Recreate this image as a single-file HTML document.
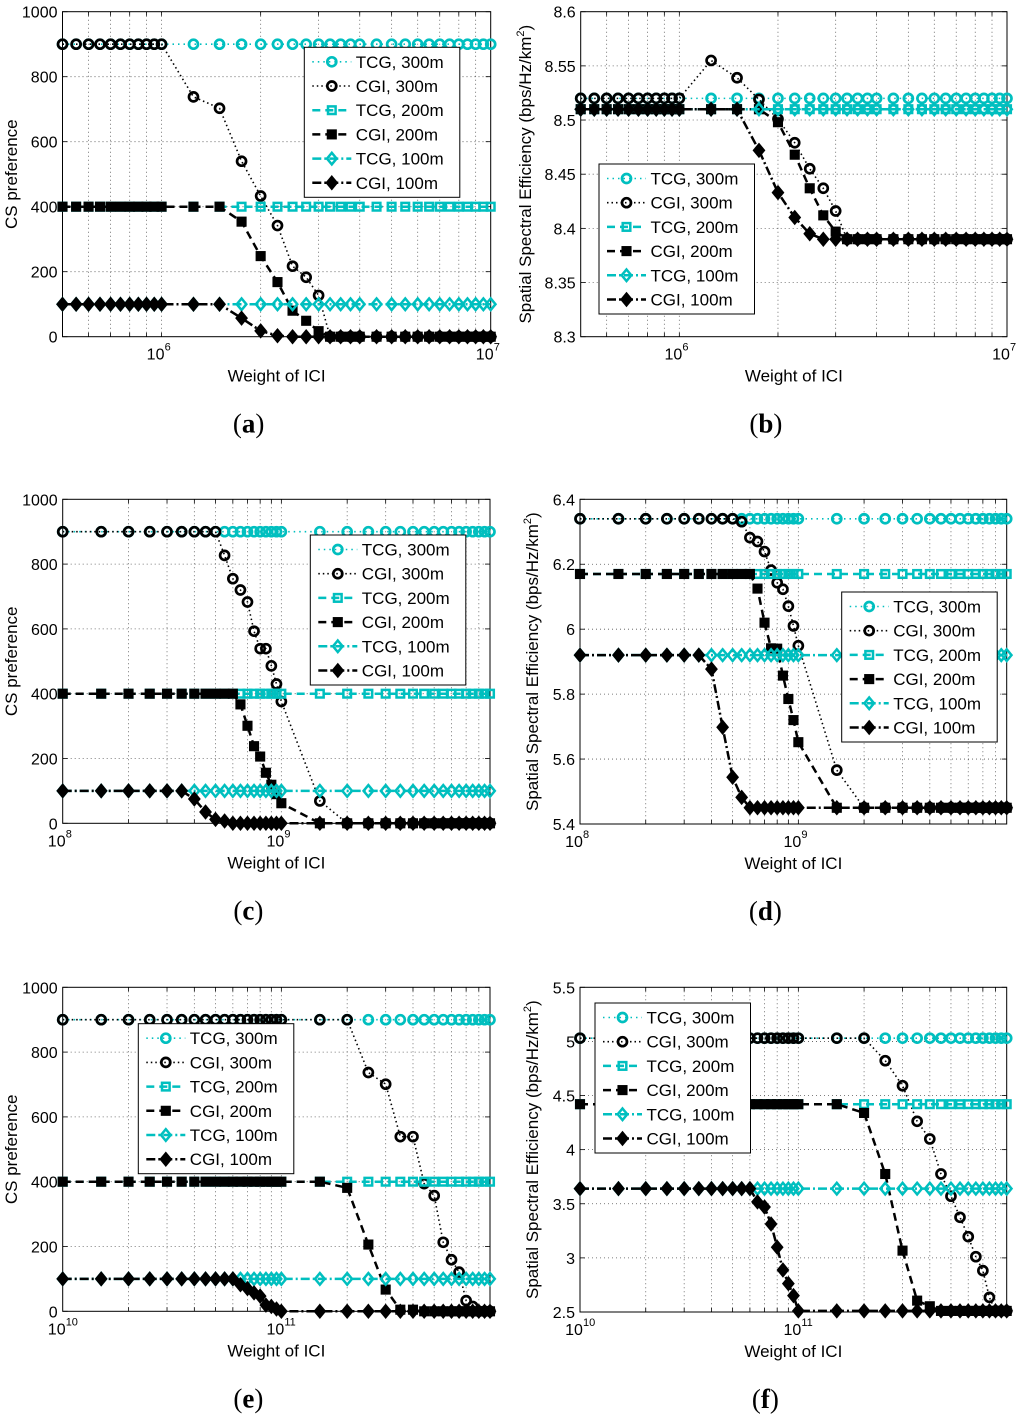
<!DOCTYPE html>
<html><head><meta charset="utf-8"><style>
html,body{margin:0;padding:0;background:#fff;}
svg{display:block;font-family:"Liberation Sans",sans-serif;}
</style></head>
<body>
<svg id="fig" width="1024" height="1419" viewBox="0 0 1024 1419" xmlns="http://www.w3.org/2000/svg"></svg>
<script>
// ---------- data ----------
const xA = [500000,550000,600000,650000,700000,750000,800000,850000,900000,950000,1000000,1250000,1500000,1750000,2000000,2250000,2500000,2750000,3000000,3250000,3500000,3750000,4000000,4500000,5000000,5500000,6000000,6500000,7000000,7500000,8000000,8500000,9000000,9500000,10000000];
const xC = [1e8,1.5e8,2e8,2.5e8,3e8,3.5e8,4e8,4.5e8,5e8,5.5e8,6e8,6.5e8,7e8,7.5e8,8e8,8.5e8,9e8,9.5e8,1e9,1.5e9,2e9,2.5e9,3e9,3.5e9,4e9,4.5e9,5e9,5.5e9,6e9,6.5e9,7e9,7.5e9,8e9,8.5e9,9e9];
const xE = [1e10,1.5e10,2e10,2.5e10,3e10,3.5e10,4e10,4.5e10,5e10,5.5e10,6e10,6.5e10,7e10,7.5e10,8e10,8.5e10,9e10,9.5e10,1e11,1.5e11,2e11,2.5e11,3e11,3.5e11,4e11,4.5e11,5e11,5.5e11,6e11,6.5e11,7e11,7.5e11,8e11,8.5e11,9e11];

const aTCG300 = [900,900,900,900,900,900,900,900,900,900,900,900,900,900,900,900,900,900,900,900,900,900,900,900,900,900,900,900,900,900,900,900,900,900,900];
const aCGI300 = [900,900,900,900,900,900,900,900,900,900,900,738,703,540,433,342,217,183,127,0,0,0,0,0,0,0,0,0,0,0,0,0,0,0,0];
const aTCG200 = [400,400,400,400,400,400,400,400,400,400,400,400,400,400,400,400,400,400,400,400,400,400,400,400,400,400,400,400,400,400,400,400,400,400,400];
const aCGI200 = [400,400,400,400,400,400,400,400,400,400,400,400,400,354,248,168,80,49,17,0,0,0,0,0,0,0,0,0,0,0,0,0,0,0,0];
const aTCG100 = [100,100,100,100,100,100,100,100,100,100,100,100,100,100,100,100,100,100,100,100,100,100,100,100,100,100,100,100,100,100,100,100,100,100,100];
const aCGI100 = [100,100,100,100,100,100,100,100,100,100,100,100,100,57,18,3,0,0,0,0,0,0,0,0,0,0,0,0,0,0,0,0,0,0,0];

const bTCG300 = [8.52,8.52,8.52,8.52,8.52,8.52,8.52,8.52,8.52,8.52,8.52,8.52,8.52,8.52,8.52,8.52,8.52,8.52,8.52,8.52,8.52,8.52,8.52,8.52,8.52,8.52,8.52,8.52,8.52,8.52,8.52,8.52,8.52,8.52,8.52];
const bCGI300 = [8.52,8.52,8.52,8.52,8.52,8.52,8.52,8.52,8.52,8.52,8.52,8.555,8.539,8.519,8.501,8.479,8.455,8.437,8.416,8.39,8.39,8.39,8.39,8.39,8.39,8.39,8.39,8.39,8.39,8.39,8.39,8.39,8.39,8.39,8.39];
const bTCG200 = [8.51,8.51,8.51,8.51,8.51,8.51,8.51,8.51,8.51,8.51,8.51,8.51,8.51,8.51,8.51,8.51,8.51,8.51,8.51,8.51,8.51,8.51,8.51,8.51,8.51,8.51,8.51,8.51,8.51,8.51,8.51,8.51,8.51,8.51,8.51];
const bCGI200 = [8.51,8.51,8.51,8.51,8.51,8.51,8.51,8.51,8.51,8.51,8.51,8.51,8.51,8.51,8.498,8.468,8.437,8.412,8.397,8.39,8.39,8.39,8.39,8.39,8.39,8.39,8.39,8.39,8.39,8.39,8.39,8.39,8.39,8.39,8.39];
const bTCG100 = [8.51,8.51,8.51,8.51,8.51,8.51,8.51,8.51,8.51,8.51,8.51,8.51,8.51,8.51,8.51,8.51,8.51,8.51,8.51,8.51,8.51,8.51,8.51,8.51,8.51,8.51,8.51,8.51,8.51,8.51,8.51,8.51,8.51,8.51,8.51];
const bCGI100 = [8.51,8.51,8.51,8.51,8.51,8.51,8.51,8.51,8.51,8.51,8.51,8.51,8.51,8.472,8.433,8.41,8.395,8.39,8.39,8.39,8.39,8.39,8.39,8.39,8.39,8.39,8.39,8.39,8.39,8.39,8.39,8.39,8.39,8.39,8.39];

const cTCG300 = aTCG300.slice();
const cCGI300 = [900,900,900,900,900,900,900,900,900,827,755,720,683,593,539,539,486,430,376,69,0,0,0,0,0,0,0,0,0,0,0,0,0,0,0];
const cTCG200 = aTCG200.slice();
const cCGI200 = [400,400,400,400,400,400,400,400,400,400,400,367,301,238,206,156,119,90,62,0,0,0,0,0,0,0,0,0,0,0,0,0,0,0,0];
const cTCG100 = aTCG100.slice();
const cCGI100 = [100,100,100,100,100,100,75,35,12,7,0,0,0,0,0,0,0,0,0,0,0,0,0,0,0,0,0,0,0,0,0,0,0,0,0];

const dTCG300 = [6.34,6.34,6.34,6.34,6.34,6.34,6.34,6.34,6.34,6.34,6.34,6.34,6.34,6.34,6.34,6.34,6.34,6.34,6.34,6.34,6.34,6.34,6.34,6.34,6.34,6.34,6.34,6.34,6.34,6.34,6.34,6.34,6.34,6.34,6.34];
const dCGI300 = [6.34,6.34,6.34,6.34,6.34,6.34,6.34,6.34,6.34,6.331,6.282,6.27,6.239,6.182,6.143,6.123,6.071,6.01,5.949,5.566,5.45,5.45,5.45,5.45,5.45,5.45,5.45,5.45,5.45,5.45,5.45,5.45,5.45,5.45,5.45];
const dTCG200 = [6.17,6.17,6.17,6.17,6.17,6.17,6.17,6.17,6.17,6.17,6.17,6.17,6.17,6.17,6.17,6.17,6.17,6.17,6.17,6.17,6.17,6.17,6.17,6.17,6.17,6.17,6.17,6.17,6.17,6.17,6.17,6.17,6.17,6.17,6.17];
const dCGI200 = [6.17,6.17,6.17,6.17,6.17,6.17,6.17,6.17,6.17,6.17,6.17,6.125,6.02,5.941,5.94,5.857,5.785,5.72,5.652,5.45,5.45,5.45,5.45,5.45,5.45,5.45,5.45,5.45,5.45,5.45,5.45,5.45,5.45,5.45,5.45];
const dTCG100 = [5.92,5.92,5.92,5.92,5.92,5.92,5.92,5.92,5.92,5.92,5.92,5.92,5.92,5.92,5.92,5.92,5.92,5.92,5.92,5.92,5.92,5.92,5.92,5.92,5.92,5.92,5.92,5.92,5.92,5.92,5.92,5.92,5.92,5.92,5.92];
const dCGI100 = [5.92,5.92,5.92,5.92,5.92,5.92,5.877,5.698,5.544,5.482,5.45,5.45,5.45,5.45,5.45,5.45,5.45,5.45,5.45,5.45,5.45,5.45,5.45,5.45,5.45,5.45,5.45,5.45,5.45,5.45,5.45,5.45,5.45,5.45,5.45];

const eTCG300 = aTCG300.slice();
const eCGI300 = [900,900,900,900,900,900,900,900,900,900,900,900,900,900,900,900,900,900,900,900,900,737,701,539,539,394,357,213,159,121,33,15,0,0,0];
const eTCG200 = aTCG200.slice();
const eCGI200 = [400,400,400,400,400,400,400,400,400,400,400,400,400,400,400,400,400,400,400,400,381,206,67,5,5,0,0,0,0,0,0,0,0,0,0];
const eTCG100 = aTCG100.slice();
const eCGI100 = [100,100,100,100,100,100,100,100,100,100,100,82,70,57,47,19,15,7,0,0,0,0,0,0,0,0,0,0,0,0,0,0,0,0,0];

const fTCG300 = [5.03,5.03,5.03,5.03,5.03,5.03,5.03,5.03,5.03,5.03,5.03,5.03,5.03,5.03,5.03,5.03,5.03,5.03,5.03,5.03,5.03,5.03,5.03,5.03,5.03,5.03,5.03,5.03,5.03,5.03,5.03,5.03,5.03,5.03,5.03];
const fCGI300 = [5.03,5.03,5.03,5.03,5.03,5.03,5.03,5.03,5.03,5.03,5.03,5.03,5.03,5.03,5.03,5.03,5.03,5.03,5.03,5.03,5.03,4.822,4.591,4.262,4.099,3.775,3.57,3.375,3.196,3.011,2.882,2.635,2.51,2.51,2.51];
const fTCG200 = [4.42,4.42,4.42,4.42,4.42,4.42,4.42,4.42,4.42,4.42,4.42,4.42,4.42,4.42,4.42,4.42,4.42,4.42,4.42,4.42,4.42,4.42,4.42,4.42,4.42,4.42,4.42,4.42,4.42,4.42,4.42,4.42,4.42,4.42,4.42];
const fCGI200 = [4.42,4.42,4.42,4.42,4.42,4.42,4.42,4.42,4.42,4.42,4.42,4.42,4.42,4.42,4.42,4.42,4.42,4.42,4.42,4.42,4.339,3.775,3.067,2.605,2.553,2.51,2.51,2.51,2.51,2.51,2.51,2.51,2.51,2.51,2.51];
const fTCG100 = [3.64,3.64,3.64,3.64,3.64,3.64,3.64,3.64,3.64,3.64,3.64,3.64,3.64,3.64,3.64,3.64,3.64,3.64,3.64,3.64,3.64,3.64,3.64,3.64,3.64,3.64,3.64,3.64,3.64,3.64,3.64,3.64,3.64,3.64,3.64];
const fCGI100 = [3.64,3.64,3.64,3.64,3.64,3.64,3.64,3.64,3.64,3.64,3.64,3.517,3.47,3.313,3.098,2.888,2.762,2.651,2.51,2.51,2.51,2.51,2.51,2.51,2.51,2.51,2.51,2.51,2.51,2.51,2.51,2.51,2.51,2.51,2.51];

const seriesNames = ["TCG, 300m","CGI, 300m","TCG, 200m","CGI, 200m","TCG, 100m","CGI, 100m"];
const yTicksCS = [0,200,400,600,800,1000];
const yTicksB = [8.3,8.35,8.4,8.45,8.5,8.55,8.6];
const yTicksD = [5.4,5.6,5.8,6,6.2,6.4];
const yTicksF = [2.5,3,3.5,4,4.5,5,5.5];

// ---------- drawing ----------
const NS = "http://www.w3.org/2000/svg";
const svg = document.getElementById("fig");
const CY = "#00bfbf";
function mk(tag, attrs, parent){
  const e = document.createElementNS(NS, tag);
  for (const k in attrs) e.setAttribute(k, attrs[k]);
  (parent||svg).appendChild(e);
  return e;
}
const styles = [
  {c:CY, dash:"1.5 4", m:"o", w:1.6},
  {c:"#000", dash:"1.5 3", m:"o", w:1.6},
  {c:CY, dash:"8 5", m:"s", w:2.5},
  {c:"#000", dash:"8 5", m:"s", w:2.5},
  {c:CY, dash:"9 3 2 3", m:"d", w:2.5},
  {c:"#000", dash:"9 3 2 3", m:"d", w:2.5}
];
function marker(g, type, x, y, color, filled){
  let e;
  if (type==="o") e = mk("circle",{cx:x,cy:y,r:4.5,fill:"none",stroke:color,"stroke-width":2.7},g);
  else if (type==="s") e = mk("rect",{x:x-3.8,y:y-3.8,width:7.6,height:7.6,fill:filled?color:"none",stroke:color,"stroke-width":2.5},g);
  else e = mk("polygon",{points:`${x},${y-5.8} ${x+4.8},${y} ${x},${y+5.8} ${x-4.8},${y}`,fill:filled?color:"none",stroke:color,"stroke-width":2.5},g);
  return e;
}
function fmt(v){ return String(+v.toFixed(2)); }

function panel(p){
  const g = mk("g",{});
  
  
  const [L,T,R,B] = p.box;
  const lx0 = Math.log10(p.xr[0]), lx1 = Math.log10(p.xr[1]);
  const sx = v => L + (Math.log10(v)-lx0)/(lx1-lx0)*(R-L);
  const sy = v => B - (v-p.yr[0])/(p.yr[1]-p.yr[0])*(B-T);
  const grid = mk("g",{},g);
  
  
  for (let d=Math.floor(lx0); d<=Math.ceil(lx1); d++){
    for (let m=1; m<10; m++){
      const v = m*Math.pow(10,d);
      if (v < p.xr[0]*1.001 || v > p.xr[1]*0.999) continue;
      const x = sx(v);
      mk("line",{x1:x,y1:T,x2:x,y2:B,stroke:"#555","stroke-width":0.8,"stroke-dasharray":"1 3"},grid);
      mk("line",{x1:x,y1:B,x2:x,y2:B-4,stroke:"#000","stroke-width":0.8},grid);
      mk("line",{x1:x,y1:T,x2:x,y2:T+4,stroke:"#000","stroke-width":0.8},grid);
    }
  }
  p.yt.forEach(v=>{
    const y = sy(v);
    if (v>p.yr[0] && v<p.yr[1]) mk("line",{x1:L,y1:y,x2:R,y2:y,stroke:"#555","stroke-width":0.8,"stroke-dasharray":"1 3"},grid);
    mk("line",{x1:L,y1:y,x2:L+5,y2:y,stroke:"#000","stroke-width":0.8},grid);
    mk("line",{x1:R,y1:y,x2:R-5,y2:y,stroke:"#000","stroke-width":0.8},grid);
    const t = mk("text",{x:L-5,y:y+6,"text-anchor":"end","font-size":16,fill:"#000"},g);
    t.textContent = fmt(v);
    
    
  });
  p.xt.forEach(v=>{
    const x = sx(v);
    const e = Math.round(Math.log10(v));
    const t = mk("text",{x:x-6,y:B+23,"text-anchor":"middle","font-size":16,fill:"#000"},g);
    t.textContent = "10";
    
    
    const s = mk("text",{x:x+3,y:B+14,"text-anchor":"start","font-size":11,fill:"#000"},g);
    s.textContent = String(e);
    
    
  });
  const bx = mk("rect",{x:L,y:T,width:R-L,height:B-T,fill:"none",stroke:"#000","stroke-width":1},g);
  
  
  p.series.forEach((vals,i)=>{
    const st = styles[i];
    const sg = mk("g",{},g);
    
    
    const pts = vals.map((v,k)=>sx(p.x[k]).toFixed(2)+","+sy(v).toFixed(2)).join(" ");
    mk("polyline",{points:pts,fill:"none",stroke:st.c,"stroke-width":st.w,"stroke-dasharray":st.dash},sg);
    vals.forEach((v,k)=>{
      const m = marker(sg, st.m, sx(p.x[k]), sy(v), st.c, i===3||i===5);
      
      
    });
  });
  const [lx,ly] = p.leg;
  const lg = mk("g",{},g);
  
  
  mk("rect",{x:lx,y:ly,width:155.5,height:150,fill:"#fff",stroke:"#000","stroke-width":1},lg);
  seriesNames.forEach((n,i)=>{
    const st = styles[i];
    const yy = ly+14.5+i*24.2;
    const eg = mk("g",{},lg);
    
    
    mk("line",{x1:lx+8,y1:yy,x2:lx+47,y2:yy,stroke:st.c,"stroke-width":st.w,"stroke-dasharray":st.dash},eg);
    marker(eg, st.m, lx+27.5, yy, st.c, i===3||i===5);
    const t = mk("text",{x:lx+51.5,y:yy+6,"font-size":17,fill:"#000"},eg);
    t.textContent = n;
  });
  const xl = mk("text",{x:(L+R)/2,y:B+45,"text-anchor":"middle","font-size":17,fill:"#000"},g);
  xl.textContent = "Weight of ICI";
  
  
  const yx = p.ylx, yc = (T+B)/2;
  const yl = mk("text",{x:yx,y:yc,"text-anchor":"middle","font-size":17,fill:"#000",transform:`rotate(-90 ${yx} ${yc})`},g);
  if (p.ytitle==="cs") yl.textContent = "CS preference";
  else { yl.textContent = "Spatial Spectral Efficiency (bps/Hz/km"; const ts=mk("tspan",{"font-size":11,dy:-7},yl); ts.textContent="2"; const t2=mk("tspan",{dy:7},yl); t2.textContent=")"; }
  
  
  const pl = mk("text",{x:(L+R)/2-28,y:B+96,"text-anchor":"middle","font-size":27,"font-family":"Liberation Serif, serif",fill:"#000"},g);
  pl.innerHTML = '(<tspan font-weight="bold">'+p.id+'</tspan>)';
  
  
}

panel({id:"a",box:[62.5,11.7,490.7,336.7],xr:[5e5,1e7],yr:[0,1000],yt:yTicksCS,xt:[1e6,1e7],x:xA,
  series:[aTCG300,aCGI300,aTCG200,aCGI200,aTCG100,aCGI100],leg:[304.3,47.3],ytitle:"cs",ylx:17});
panel({id:"b",box:[580.7,11.7,1007,336.7],xr:[5e5,1e7],yr:[8.3,8.6],yt:yTicksB,xt:[1e6,1e7],x:xA,
  series:[bTCG300,bCGI300,bTCG200,bCGI200,bTCG100,bCGI100],leg:[599,164],ytitle:"se",ylx:531});
panel({id:"c",box:[62.7,499.3,490,823.3],xr:[1e8,9e9],yr:[0,1000],yt:yTicksCS,xt:[1e8,1e9],x:xC,
  series:[cTCG300,cCGI300,cTCG200,cCGI200,cTCG100,cCGI100],leg:[310.3,535],ytitle:"cs",ylx:17});
panel({id:"d",box:[580,499.3,1006.7,824],xr:[1e8,9e9],yr:[5.4,6.4],yt:yTicksD,xt:[1e8,1e9],x:xC,
  series:[dTCG300,dCGI300,dTCG200,dCGI200,dTCG100,dCGI100],leg:[841.7,592],ytitle:"se",ylx:538});
panel({id:"e",box:[62.7,987.3,490,1311.3],xr:[1e10,9e11],yr:[0,1000],yt:yTicksCS,xt:[1e10,1e11],x:xE,
  series:[eTCG300,eCGI300,eTCG200,eCGI200,eTCG100,eCGI100],leg:[138.3,1023.7],ytitle:"cs",ylx:17});
panel({id:"f",box:[580,987.3,1006.7,1312],xr:[1e10,9e11],yr:[2.5,5.5],yt:yTicksF,xt:[1e10,1e11],x:xE,
  series:[fTCG300,fCGI300,fTCG200,fCGI200,fTCG100,fCGI100],leg:[595,1003],ytitle:"se",ylx:538});
</script>
</body></html>
